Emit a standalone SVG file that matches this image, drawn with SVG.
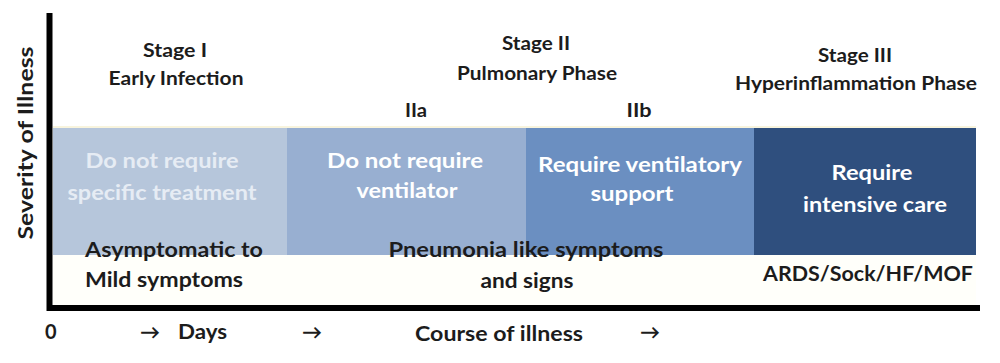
<svg xmlns="http://www.w3.org/2000/svg" width="1000" height="363" viewBox="0 0 1000 363">
  <style>
    text { font-family: Lato, "Open Sans", "Liberation Sans", sans-serif; font-weight: bold; fill: #1c1c1c; }
    .h { font-size: 19px; text-anchor: middle; }
    .b { font-size: 21px; text-anchor: middle; fill: #ffffff; }
    .b1 { fill: #e6ecf4; }
    .s { font-size: 21px; }
    .m { text-anchor: middle; }
    .ax { font-size: 20px; }
    .axis { stroke: #000; stroke-width: 6; fill: none; }
  </style>
  <rect width="1000" height="363" fill="#ffffff"/>
  <rect x="53" y="255" width="923" height="50" fill="#fffffa"/>
  <line x1="53" y1="127" x2="976" y2="127" stroke="#f6f1d2" stroke-width="1.5"/>

  <g id="headings">
    <g id="stage1">
      <text class="h" x="175" y="57" textLength="64" lengthAdjust="spacingAndGlyphs">Stage I</text>
      <text class="h" x="176" y="85" textLength="135" lengthAdjust="spacingAndGlyphs">Early Infection</text>
    </g>
    <g id="stage2">
      <text class="h" x="536" y="50" textLength="68" lengthAdjust="spacingAndGlyphs">Stage II</text>
      <text class="h" x="537" y="80" textLength="160" lengthAdjust="spacingAndGlyphs">Pulmonary Phase</text>
      <text class="h" x="416" y="117" textLength="22" lengthAdjust="spacingAndGlyphs">IIa</text>
      <text class="h" x="639" y="117" textLength="25" lengthAdjust="spacingAndGlyphs">IIb</text>
    </g>
    <g id="stage3">
      <text class="h" x="855" y="62" textLength="74" lengthAdjust="spacingAndGlyphs">Stage III</text>
      <text class="h" x="856" y="90" textLength="242" lengthAdjust="spacingAndGlyphs">Hyperinflammation Phase</text>
    </g>
  </g>

  <g id="box1">
    <rect x="53" y="128" width="234" height="127" fill="#b6c6db"/>
    <text class="b b1" x="162" y="168" textLength="153" lengthAdjust="spacingAndGlyphs">Do not require</text>
    <text class="b b1" x="162" y="200" textLength="189" lengthAdjust="spacingAndGlyphs">specific treatment</text>
  </g>
  <g id="box2">
    <rect x="287" y="128" width="239" height="127" fill="#98afd1"/>
    <text class="b" x="405" y="168" textLength="156" lengthAdjust="spacingAndGlyphs">Do not require</text>
    <text class="b" x="407" y="198" textLength="101" lengthAdjust="spacingAndGlyphs">ventilator</text>
  </g>
  <g id="box3">
    <rect x="526" y="128" width="228" height="127" fill="#6b8fc1"/>
    <text class="b" x="640" y="172" textLength="204" lengthAdjust="spacingAndGlyphs">Require ventilatory</text>
    <text class="b" x="632" y="201" textLength="83" lengthAdjust="spacingAndGlyphs">support</text>
  </g>
  <g id="box4">
    <rect x="754" y="128" width="222" height="127" fill="#2f4f7e"/>
    <text class="b" x="872" y="180" textLength="81" lengthAdjust="spacingAndGlyphs">Require</text>
    <text class="b" x="875" y="212" textLength="144" lengthAdjust="spacingAndGlyphs">intensive care</text>
  </g>

  <g id="symptoms1">
    <text class="s" x="85" y="257" textLength="178" lengthAdjust="spacingAndGlyphs">Asymptomatic to</text>
    <text class="s" x="85" y="287" textLength="158" lengthAdjust="spacingAndGlyphs">Mild symptoms</text>
  </g>
  <g id="symptoms2">
    <text class="s m" x="526" y="257" textLength="275" lengthAdjust="spacingAndGlyphs">Pneumonia like symptoms</text>
    <text class="s m" x="527" y="288" textLength="93" lengthAdjust="spacingAndGlyphs">and signs</text>
  </g>
  <g id="symptoms3">
    <text class="s m" x="868" y="281" textLength="210" lengthAdjust="spacingAndGlyphs">ARDS/Sock/HF/MOF</text>
  </g>

  <g id="connectors">
    <line class="axis" x1="49.5" y1="13" x2="49.5" y2="311"/>
    <line class="axis" x1="47" y1="308" x2="980" y2="308"/>
  </g>

  <g id="axis-labels">
    <text class="ax" transform="translate(33,143) rotate(-90)" text-anchor="middle" textLength="193" lengthAdjust="spacingAndGlyphs">Severity of Illness</text>
    <text class="ax" x="45" y="339">0</text>
    <text class="ax" x="140" y="339">→</text>
    <text class="ax" x="178" y="339" textLength="49" lengthAdjust="spacingAndGlyphs">Days</text>
    <text class="ax" x="302" y="339">→</text>
    <text class="ax m" x="499" y="341" textLength="168" lengthAdjust="spacingAndGlyphs">Course of illness</text>
    <text class="ax" x="640" y="339">→</text>
  </g>
</svg>
